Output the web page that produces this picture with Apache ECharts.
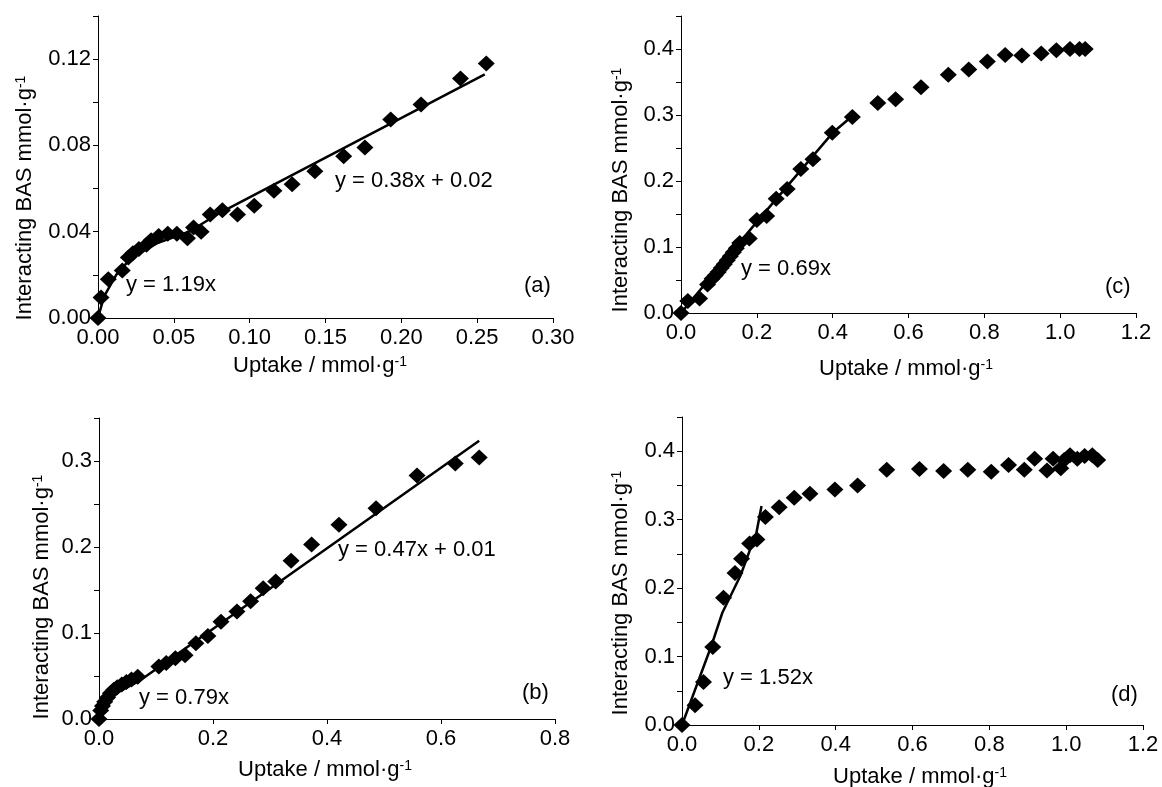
<!DOCTYPE html>
<html><head><meta charset="utf-8">
<script src="https://cdn.jsdelivr.net/npm/echarts@6/dist/echarts.min.js"></script>
<style>html,body{margin:0;padding:0;background:#fff}#c{width:1162px;height:787px}</style>
</head><body><div id="c"></div>
<script>
const FONT = '"Liberation Sans", Arial, Helvetica, sans-serif';

// ---- Panel (a) ----
const aX = [0, 0.002, 0.0068, 0.016, 0.020, 0.023, 0.027, 0.032, 0.035, 0.040, 0.046, 0.052, 0.059, 0.063, 0.068, 0.074, 0.082, 0.092, 0.103, 0.116, 0.128, 0.143, 0.162, 0.176, 0.193, 0.213, 0.239, 0.256];
const aY = [0, 0.0095, 0.018, 0.022, 0.028, 0.030, 0.032, 0.034, 0.036, 0.038, 0.039, 0.039, 0.037, 0.042, 0.040, 0.048, 0.050, 0.048, 0.052, 0.059, 0.062, 0.068, 0.075, 0.079, 0.092, 0.099, 0.111, 0.118];
const aFitX = [0, 0.004, 0.012, 0.022, 0.040, 0.060, 0.081, 0.255];
const aFitY = [0, 0.010, 0.020, 0.028, 0.035, 0.040, 0.049, 0.1129];
const aXLabels = ['0.00', '0.05', '0.10', '0.15', '0.20', '0.25', '0.30'];
const aYLabels = ['0.00', '0.04', '0.08', '0.12'];

// ---- Panel (c) ----
const cX = [0, 0.018, 0.049, 0.070, 0.082, 0.090, 0.098, 0.106, 0.114, 0.122, 0.130, 0.138, 0.146, 0.155, 0.180, 0.200, 0.226, 0.251, 0.280, 0.316, 0.348, 0.399, 0.452, 0.519, 0.566, 0.633, 0.705, 0.759, 0.808, 0.855, 0.899, 0.950, 0.990, 1.026, 1.051, 1.066];
const cY = [0, 0.018, 0.022, 0.043, 0.052, 0.057, 0.062, 0.068, 0.074, 0.080, 0.086, 0.092, 0.098, 0.106, 0.113, 0.141, 0.147, 0.173, 0.188, 0.218, 0.233, 0.273, 0.297, 0.318, 0.324, 0.342, 0.361, 0.369, 0.381, 0.391, 0.390, 0.393, 0.398, 0.400, 0.400, 0.400];
const cFitX = [0, 0.200, 0.400, 0.455];
const cFitY = [0, 0.138, 0.273, 0.300];
const cXLabels = ['0.0', '0.2', '0.4', '0.6', '0.8', '1.0', '1.2'];
const cYLabels = ['0.0', '0.1', '0.2', '0.3', '0.4'];

// ---- Panel (b) ----
const bX = [0, 0.003, 0.006, 0.010, 0.015, 0.020, 0.026, 0.032, 0.040, 0.048, 0.057, 0.068, 0.105, 0.118, 0.134, 0.151, 0.170, 0.191, 0.214, 0.242, 0.266, 0.288, 0.310, 0.337, 0.373, 0.421, 0.486, 0.558, 0.625, 0.667];
const bY = [0, 0.010, 0.015, 0.020, 0.025, 0.030, 0.034, 0.037, 0.040, 0.043, 0.046, 0.049, 0.061, 0.065, 0.0705, 0.074, 0.088, 0.0965, 0.113, 0.125, 0.137, 0.152, 0.160, 0.184, 0.203, 0.226, 0.245, 0.283, 0.297, 0.304];
const bFitX = [0, 0.010, 0.030, 0.070, 0.667];
const bFitY = [0, 0.014, 0.030, 0.044, 0.3235];
const bXLabels = ['0.0', '0.2', '0.4', '0.6', '0.8'];
const bYLabels = ['0.0', '0.1', '0.2', '0.3'];

// ---- Panel (d) ----
const dX = [0, 0.034, 0.056, 0.080, 0.108, 0.138, 0.155, 0.176, 0.195, 0.217, 0.253, 0.292, 0.333, 0.398, 0.457, 0.533, 0.618, 0.681, 0.744, 0.805, 0.850, 0.891, 0.918, 0.950, 0.966, 0.986, 0.995, 1.010, 1.029, 1.048, 1.068, 1.082];
const dY = [0, 0.029, 0.063, 0.114, 0.186, 0.222, 0.243, 0.265, 0.271, 0.304, 0.318, 0.332, 0.338, 0.344, 0.350, 0.373, 0.374, 0.371, 0.373, 0.370, 0.380, 0.373, 0.389, 0.372, 0.389, 0.375, 0.387, 0.394, 0.389, 0.393, 0.394, 0.387];
const dFitX = [0, 0.076, 0.105, 0.152, 0.181, 0.190, 0.207];
const dFitY = [0, 0.115, 0.164, 0.218, 0.262, 0.270, 0.320];
const dXLabels = ['0.0', '0.2', '0.4', '0.6', '0.8', '1.0', '1.2'];
const dYLabels = ['0.0', '0.1', '0.2', '0.3', '0.4'];

const xTitle = 'Uptake / mmol·g{sup|-1}';
const yTitle = 'Interacting BAS mmol·g{sup|-1}';
const panelTags = ['(a)', '(c)', '(b)', '(d)'];
const eqTexts = ['y = 1.19x', 'y = 0.38x + 0.02', 'y = 0.69x', 'y = 0.79x', 'y = 0.47x + 0.01', 'y = 1.52x'];

function zip(xs, ys) { return xs.map((x, i) => [x, ys[i]]); }

const grids = [
  {left: 98, top: 16, width: 455, height: 302},
  {left: 681, top: 16, width: 455, height: 297},
  {left: 99, top: 418, width: 456, height: 301},
  {left: 682, top: 417, width: 461, height: 308}
].map(g => Object.assign(g, {containLabel: false, outerBoundsMode: 'none', show: false}));

const labelStyle = {color: '#000', fontSize: 22, fontFamily: FONT};

function mkX(i, max, interval, labels) {
  return {
    type: 'value', gridIndex: i, min: 0, max: max, interval: interval,
    axisLine: {show: true, onZero: false, lineStyle: {color: '#000', width: 1}},
    axisTick: {show: true, inside: false, length: 5, lineStyle: {color: '#000', width: 1}},
    splitLine: {show: false},
    axisLabel: Object.assign({}, labelStyle, {margin: 9, showMinLabel: true, showMaxLabel: true,
      formatter: v => { const k = Math.round(v / interval); return labels[k] !== undefined ? labels[k] : ''; }})
  };
}
function mkY(i, max, interval, labels) {
  return {
    type: 'value', gridIndex: i, min: 0, max: max, interval: interval,
    axisLine: {show: true, onZero: false, lineStyle: {color: '#000', width: 1}},
    axisTick: {show: true, inside: false, length: 5, lineStyle: {color: '#000', width: 1}},
    splitLine: {show: false},
    axisLabel: Object.assign({}, labelStyle, {margin: 7, showMinLabel: true, showMaxLabel: true,
      formatter: v => { const k = Math.round(v / interval); if (k % 2) return ''; const s = labels[k / 2]; return s !== undefined ? s : ''; }})
  };
}

function scatter(i, xs, ys) {
  return {type: 'scatter', xAxisIndex: i, yAxisIndex: i, data: zip(xs, ys), symbol: 'diamond', symbolSize: [17, 16],
    itemStyle: {color: '#000', opacity: 1}, emphasis: {disabled: true}, z: 3};
}
function fit(i, xs, ys) {
  return {type: 'line', xAxisIndex: i, yAxisIndex: i, data: zip(xs, ys), showSymbol: false, symbol: 'none',
    lineStyle: {color: '#000', width: 2.5, opacity: 1}, z: 2};
}

const rich = {sup: {fontSize: 14, fontFamily: FONT, verticalAlign: 'top', fill: '#000', color: '#000'}};
function txt(x, y, text, align, rot) {
  return {type: 'text', x: x, y: y, rotation: rot || 0,
    style: {text: text, fontSize: 22, fontFamily: FONT, fill: '#000', align: align || 'left', verticalAlign: 'middle', rich: rich}};
}

const graphic = [
  // axis titles
  txt(320, 366, xTitle, 'center'),
  txt(906, 369, xTitle, 'center'),
  txt(325, 770, xTitle, 'center'),
  txt(920, 777, xTitle, 'center'),
  txt(25, 198, yTitle, 'center', Math.PI / 2),
  txt(621, 190, yTitle, 'center', Math.PI / 2),
  txt(42, 597, yTitle, 'center', Math.PI / 2),
  txt(621, 593, yTitle, 'center', Math.PI / 2),
  // equations
  txt(126, 285, eqTexts[0]),
  txt(335, 181, eqTexts[1]),
  txt(741, 269, eqTexts[2]),
  txt(139, 698, eqTexts[3]),
  txt(338, 550, eqTexts[4]),
  txt(723, 678, eqTexts[5]),
  // panel tags
  txt(524, 286, panelTags[0]),
  txt(1105, 287, panelTags[1]),
  txt(522, 693, panelTags[2]),
  txt(1111, 695, panelTags[3])
];

const option = {
  animation: false,
  backgroundColor: '#fff',
  grid: grids,
  xAxis: [mkX(0, 0.30, 0.05, aXLabels), mkX(1, 1.2, 0.2, cXLabels), mkX(2, 0.8, 0.2, bXLabels), mkX(3, 1.2, 0.2, dXLabels)],
  yAxis: [mkY(0, 0.14, 0.02, aYLabels), mkY(1, 0.45, 0.05, cYLabels), mkY(2, 0.35, 0.05, bYLabels), mkY(3, 0.45, 0.05, dYLabels)],
  series: [
    fit(0, aFitX, aFitY), scatter(0, aX, aY),
    fit(1, cFitX, cFitY), scatter(1, cX, cY),
    fit(2, bFitX, bFitY), scatter(2, bX, bY),
    fit(3, dFitX, dFitY), scatter(3, dX, dY)
  ],
  graphic: graphic
};

const chart = echarts.init(document.getElementById('c'), null, {renderer: 'canvas'});
chart.setOption(option);
</script>
</body></html>
